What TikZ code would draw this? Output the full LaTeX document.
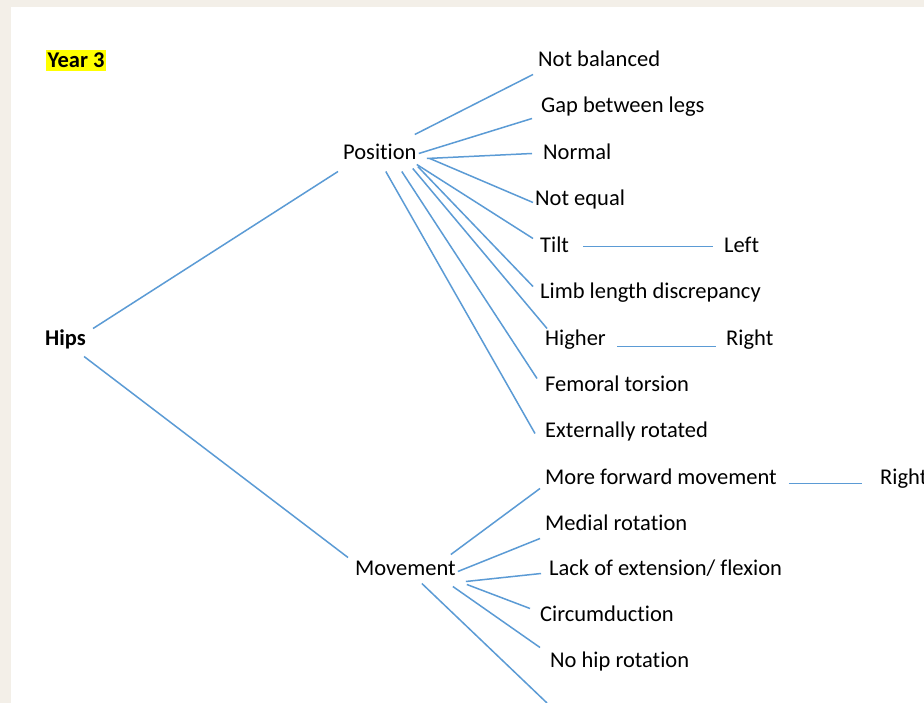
\documentclass[tikz,border=0pt]{standalone}
\usepackage{fontspec}
\setmainfont{Carlito}[Ligatures=NoCommon]
\definecolor{LinkBlue}{HTML}{5B9BD5}
\definecolor{PageBg}{HTML}{F3EFE8}
\definecolor{MarkYellow}{HTML}{FFFF00}
\tikzset{
  item/.style={inner sep=0pt, anchor=base west, text=black, yshift=-1.5pt,
               font=\fontsize{22.5}{27}\selectfont},
  head/.style={item, font=\fontsize{22.5}{27}\selectfont\bfseries},
  link/.style={draw=LinkBlue, line width=1.5pt},
}

\begin{document}
\begin{tikzpicture}[x=1pt, y=-1pt]
  % page and frame
  \useasboundingbox (0,0) rectangle (924,703);
  \fill[PageBg] (0,0) rectangle (924,703);
  \fill[white] (11,7) rectangle (924,703);

  \node[head, fill=MarkYellow, inner xsep=1.5pt, inner ysep=3pt] (year) at (46,66) {Year 3};

  % main branches
  \node[head] (hips) at (45,344) {Hips};
  \node[item] (pos) at (343,158) {Position};
  \node[item] (mov) at (355,574) {Movement};

  % position leaves
  \node[item] (notbal)  at (538,65)  {Not balanced};
  \node[item] (gap)     at (541,111) {Gap between legs};
  \node[item] (normal)  at (543,158) {Normal};
  \node[item] (noteq)   at (535,204) {Not equal};
  \node[item] (tilt)    at (540,251) {Tilt};
  \node[item] (limb)    at (540,297) {Limb length discrepancy};
  \node[item] (higher)  at (545,344) {Higher};
  \node[item] (femoral) at (545,390) {Femoral torsion};
  \node[item] (extrot)  at (545,436) {Externally rotated};
  \node[item] (left)    at (724,251) {Left};
  \node[item] (rightA)  at (726,344) {Right};

  % movement leaves
  \node[item] (forward) at (545,483) {More forward movement};
  \node[item] (medial)  at (545,529) {Medial rotation};
  \node[item] (lack)    at (549,574) {Lack of extension/ flexion};
  \node[item] (circ)    at (540,620) {Circumduction};
  \node[item] (nohip)   at (550,666) {No hip rotation};
  \node[item] (rightB)  at (880,483) {Right};
  \coordinate (below) at (547,703);

  % connectors
  \draw[link] ([shift={(7,-17)}]hips.base east) -- ([shift={(-5,12)}]pos.base west);
  \draw[link] ([shift={(-2,11)}]hips.base east) -- ([shift={(-7,-18)}]mov.base west);

  \draw[link] ([shift={(-2,-25)}]pos.base east) -- ([shift={(-5,8)}]notbal.base west);
  \draw[link] ([shift={(2,-6)}]pos.base east) -- ([shift={(-9,6)}]gap.base west);
  \draw[link] ([shift={(10,-1)}]pos.base east) -- ([shift={(-11,-6)}]normal.base west);
  \draw[link] ([shift={(13,-1)}]pos.base east) -- ([shift={(-2,-3)}]noteq.base west);
  \draw[link] ([shift={(0,5)}]pos.base east) -- ([shift={(-7,-14)}]tilt.base west);
  \draw[link] ([shift={(1,7)}]pos.base east) -- ([shift={(-7,-12)}]limb.base west);
  \draw[link] ([shift={(-4,9)}]pos.base east) -- ([shift={(2,-17)}]higher.base west);
  \draw[link] ([shift={(-15,12)}]pos.base east) -- ([shift={(-8,-13)}]femoral.base west);
  \draw[link] ([shift={(-31,12)}]pos.base east) -- ([shift={(-10,-4)}]extrot.base west);
  \draw[link] ([shift={(14,-6)}]tilt.base east) -- ([shift={(-11,-6)}]left.base west);
  \draw[link] ([shift={(11,1)}]higher.base east) -- ([shift={(-10,1)}]rightA.base west);

  \draw[link] ([shift={(-5,-21)}]mov.base east) -- ([shift={(-5,4)}]forward.base west);
  \draw[link] ([shift={(2,-4)}]mov.base east) -- ([shift={(-5,8)}]medial.base west);
  \draw[link] ([shift={(10,6)}]mov.base east) -- ([shift={(-8,-2)}]lack.base west);
  \draw[link] ([shift={(11,9)}]mov.base east) -- ([shift={(-10,-13)}]circ.base west);
  \draw[link] ([shift={(-3,11)}]mov.base east) -- ([shift={(-10,-20)}]nohip.base west);
  \draw[link] ([shift={(-34,8)}]mov.base east) -- (below);
  \draw[link] ([shift={(12,-1)}]forward.base east) -- ([shift={(-18,-1)}]rightB.base west);
\end{tikzpicture}
\end{document}
